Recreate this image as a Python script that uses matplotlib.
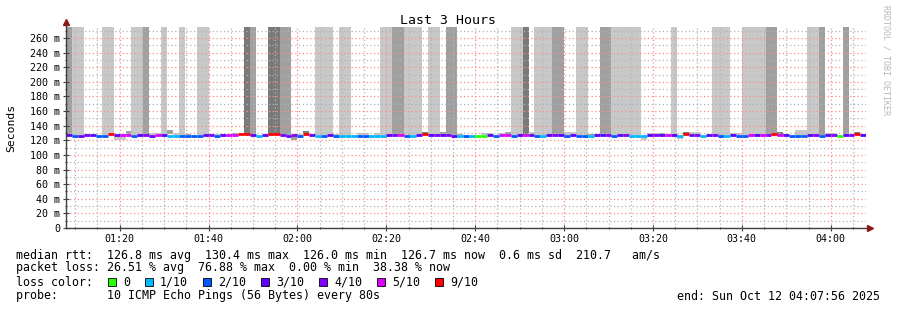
import matplotlib
matplotlib.use("Agg")
import matplotlib.pyplot as plt
from matplotlib.patches import Rectangle
import numpy as np

# probe steps: 80 s each, first step starts 01:06:40
first_step_sec = 1 * 3600 + 6 * 60 + 40
step_sec = 80
graph_start = 1 * 60 + 7 + 56 / 60.0    # minutes since midnight (01:07:56)
graph_end = 4 * 60 + 7 + 56 / 60.0      # 04:07:56

# median rtt per step (ms)
median = [
    126.6, 126.6, 125.8, 126.5, 126.9, 126.6, 126.1, 126.3, 128.0, 126.6,
    127.4, 127.3, 126.2, 126.6, 126.9, 126.5, 127.4, 126.6, 125.9, 126.0,
    126.2, 126.3, 126.1, 126.2, 126.7, 126.9, 126.3, 126.6, 127.3, 127.3,
    128.2, 128.0, 126.6, 125.8, 126.7, 128.0, 128.1, 126.8, 126.5, 126.8,
    126.2, 128.3, 126.7, 125.9, 126.3, 126.6, 126.2, 125.9, 126.0, 125.9,
    126.3, 126.2, 125.9, 126.0, 126.0, 126.6, 126.8, 127.2, 126.2, 125.9,
    126.6, 128.3, 126.6, 126.9, 126.6, 126.8, 126.5, 126.0, 126.3, 126.0,
    126.4, 126.3, 126.7, 126.3, 127.2, 127.3, 126.2, 126.6, 127.4, 126.6,
    126.2, 125.9, 126.6, 126.8, 126.6, 126.2, 126.7, 126.2, 126.3, 125.9,
    126.6, 126.6, 126.8, 126.2, 126.6, 126.8, 125.9, 126.0, 126.0, 126.6,
    126.8, 126.6, 127.4, 126.6, 126.0, 128.4, 126.6, 126.9, 125.9, 126.6,
    126.8, 126.2, 126.0, 126.6, 126.2, 126.2, 127.3, 126.6, 127.3, 126.8,
    128.6, 127.3, 126.6, 126.2, 126.2, 126.2, 126.6, 126.8, 126.2, 126.6,
    126.8, 126.4, 126.6, 126.8, 128.3, 126.6,
]

# lost pings (out of 10) per step
loss = [
    3, 3, 2, 3, 4, 3, 2, 2, 9, 3,
    5, 5, 2, 3, 4, 3, 5, 3, 1, 1,
    2, 2, 2, 2, 3, 4, 2, 3, 5, 5,
    9, 9, 3, 1, 3, 9, 9, 4, 3, 4,
    2, 9, 3, 1, 2, 3, 2, 1, 1, 1,
    2, 2, 1, 1, 1, 3, 4, 5, 2, 1,
    3, 9, 3, 4, 3, 4, 3, 1, 2, 1,
    0, 0, 3, 2, 5, 5, 2, 3, 5, 3,
    2, 1, 3, 4, 3, 2, 3, 2, 2, 1,
    3, 3, 4, 2, 3, 4, 1, 1, 1, 3,
    4, 3, 5, 3, 1, 9, 3, 4, 1, 3,
    4, 2, 1, 3, 2, 2, 5, 3, 5, 4,
    9, 5, 3, 2, 2, 2, 3, 4, 2, 3,
    4, 0, 3, 4, 9, 3,
]

# smoke (ping spread) per step, ms; shade 0 = none, 1 light, 2 mid, 3 dark
smoke_lo = [
    127.5, 127.5, 127.5, 127.5, 126, 0, 0, 127.5, 127.5, 121,
    121, 127, 127.5, 127.5, 127.5, 127, 127, 127.5, 128, 127,
    127.5, 127, 0, 127.5, 127.5, 127, 127, 127, 0, 127,
    0, 127.5, 127.5, 0, 0, 127.5, 127.5, 127.5, 127.5, 121,
    127, 128, 0, 127.5, 127.5, 127.5, 127, 127.5, 127.5, 0,
    127, 127, 0, 127, 127.5, 127.5, 127.5, 127.5, 127.5, 127.5,
    127.5, 127, 127.5, 127.5, 127, 127.5, 127.5, 127, 0, 0,
    0, 127, 127, 0, 127, 127, 127.5, 127.5, 127.5, 127,
    127.5, 127.5, 127.5, 127.5, 127.5, 127, 127, 127.5, 127.5, 127,
    127, 127.5, 127.5, 127.5, 127.5, 127.5, 127.5, 127.5, 121, 127,
    127, 126, 0, 127.5, 122, 127, 127, 127, 0, 0,
    127.5, 127.5, 127.5, 127, 127, 127.5, 127.5, 127.5, 127.5, 127.5,
    127.5, 126, 127, 0, 127, 127, 127.5, 127.5, 127.5, 127,
    127, 0, 127.5, 0, 127, 0,
]
smoke_hi = [
    300, 300, 300, 300, 129, 0, 0, 300, 300, 126,
    126, 133, 300, 300, 300, 130, 130, 300, 134, 130,
    300, 129, 0, 300, 300, 129, 129, 129, 0, 130,
    0, 300, 300, 0, 0, 300, 300, 300, 300, 126,
    129, 133, 0, 300, 300, 300, 129, 300, 300, 0,
    130, 130, 0, 130, 300, 300, 300, 300, 300, 300,
    300, 132, 300, 300, 131, 300, 300, 129, 0, 0,
    0, 130, 130, 0, 130, 132, 300, 300, 300, 131,
    300, 300, 300, 300, 300, 131, 131, 300, 300, 129,
    129, 300, 300, 300, 300, 300, 300, 300, 126, 130,
    130, 130, 0, 300, 126, 132, 131, 131, 0, 0,
    300, 300, 300, 130, 130, 300, 300, 300, 300, 300,
    300, 131, 129, 0, 134, 134, 300, 300, 300, 130,
    130, 0, 300, 0, 131, 0,
]
smoke_shade = [
    2, 2, 1, 1, 2, 0, 0, 1, 1, 1,
    1, 2, 1, 1, 2, 1, 1, 1, 2, 1,
    1, 2, 0, 1, 1, 1, 1, 1, 0, 2,
    0, 3, 2, 0, 0, 3, 3, 2, 2, 2,
    1, 3, 0, 1, 1, 1, 1, 1, 1, 0,
    1, 1, 0, 1, 1, 1, 2, 2, 1, 1,
    1, 3, 1, 1, 2, 2, 2, 2, 0, 0,
    0, 1, 1, 0, 1, 2, 1, 1, 3, 1,
    1, 1, 1, 2, 2, 1, 1, 1, 1, 2,
    2, 2, 2, 1, 1, 1, 1, 1, 1, 1,
    1, 2, 0, 1, 1, 3, 1, 1, 0, 0,
    1, 1, 1, 1, 1, 1, 1, 1, 1, 2,
    2, 3, 2, 0, 1, 1, 1, 1, 2, 1,
    1, 0, 2, 0, 3, 0,
]

loss_levels = [0, 1, 2, 3, 4, 5, 9]
loss_labels = ["0", "1/10", "2/10", "3/10", "4/10", "5/10", "9/10"]
loss_colors = ["#26ff00", "#00b8ff", "#0059ff", "#5e00ff", "#7e00ff", "#dd00ff", "#ff0000"]
shade_colors = {1: "#c8c8c8", 2: "#a0a0a0", 3: "#7a7a7a"}

W, H = 897, 310
MONO = "DejaVu Sans Mono"

def fx(px):
    return px / W

def fy(py):
    return 1 - py / H

fig = plt.figure(figsize=(W / 100, H / 100), dpi=100)
ax = fig.add_axes([fx(66), fy(228), 800 / W, 201 / H])

n = len(median)
t = (first_step_sec + np.arange(n) * step_sec) / 60.0
w = step_sec / 60.0

# smoke
for k in range(n):
    s = smoke_shade[k]
    if s == 0:
        continue
    ax.bar(t[k], smoke_hi[k] - smoke_lo[k], bottom=smoke_lo[k], width=w,
           align="edge", color=shade_colors[s], linewidth=0, zorder=1)

# median line coloured by loss
for k in range(n):
    c = loss_colors[loss_levels.index(loss[k])]
    ax.hlines(median[k], t[k], t[k] + w, colors=c, linewidth=2.0, zorder=4)

ax.set_xlim(graph_start, graph_end)
ax.set_ylim(0, 275)

ax.set_xticks(np.arange(80, 241, 20))
ax.set_xticklabels(["%02d:%02d" % (m // 60, m % 60) for m in range(80, 241, 20)])
ax.set_xticks(np.arange(70, 248, 5), minor=True)
ax.set_yticks(np.arange(0, 261, 20))
ax.set_yticklabels(["0"] + ["%d m" % v for v in range(20, 261, 20)])
ax.set_yticks(np.arange(10, 275, 10), minor=True)

ax.grid(which="major", color="#ff8c8c", linestyle=(0, (1, 2)), linewidth=0.9, zorder=3)
ax.grid(which="minor", color="#b4b4b4", linestyle=(0, (1, 2)), linewidth=0.9, zorder=3)
ax.set_axisbelow(False)

for sp in ax.spines.values():
    sp.set_visible(False)
ax.tick_params(which="both", direction="inout", color="#404040", labelsize=7.2,
               width=0.8)
ax.tick_params(which="major", length=4, pad=2)
ax.tick_params(which="minor", length=2)
for lbl in ax.get_xticklabels() + ax.get_yticklabels():
    lbl.set_family(MONO)

# axes lines and arrows
ax.plot([graph_start, graph_start], [0, 282], color="#404040", lw=1, clip_on=False, zorder=5)
ax.plot([graph_start, 248.6], [0, 0], color="#404040", lw=1, clip_on=False, zorder=5)
ax.plot([graph_start], [282], marker="^", ms=4, color="#8b1a1a", clip_on=False, zorder=6)
ax.plot([248.8], [0], marker=">", ms=4, color="#8b1a1a", clip_on=False, zorder=6)

fig.text(fx(448), fy(20), "Last 3 Hours", ha="center", va="center", family=MONO, fontsize=9.5)
fig.text(fx(11), fy(128), "Seconds", ha="center", va="center", rotation=90, family=MONO, fontsize=8.2)
fig.text(fx(886), fy(60), "RRDTOOL / TOBI OETIKER", ha="center", va="center", rotation=270,
         family=MONO, fontsize=6, color="#b8b8b8")

fs = 8.4
fig.text(fx(16), fy(255), "median rtt:  126.8 ms avg  130.4 ms max  126.0 ms min  126.7 ms now  0.6 ms sd  210.7   am/s",
         family=MONO, fontsize=fs, va="center")
fig.text(fx(16), fy(268), "packet loss: 26.51 % avg  76.88 % max  0.00 % min  38.38 % now",
         family=MONO, fontsize=fs, va="center")
fig.text(fx(16), fy(282), "loss color:", family=MONO, fontsize=fs, va="center")
fig.text(fx(16), fy(296), "probe:       10 ICMP Echo Pings (56 Bytes) every 80s",
         family=MONO, fontsize=fs, va="center")
fig.text(fx(880), fy(296), "end: Sun Oct 12 04:07:56 2025", family=MONO, fontsize=fs,
         va="center", ha="right")

cur = 108
for lab, col in zip(loss_labels, loss_colors):
    fig.patches.append(Rectangle((fx(cur), fy(286)), 8 / W, 8 / H, transform=fig.transFigure,
                                 facecolor=col, edgecolor="black", linewidth=0.6))
    fig.text(fx(cur + 15), fy(282), lab, family=MONO, fontsize=fs, va="center")
    cur = cur + 15 + 7 * len(lab) + 15

fig.savefig("out.png", dpi=100)
